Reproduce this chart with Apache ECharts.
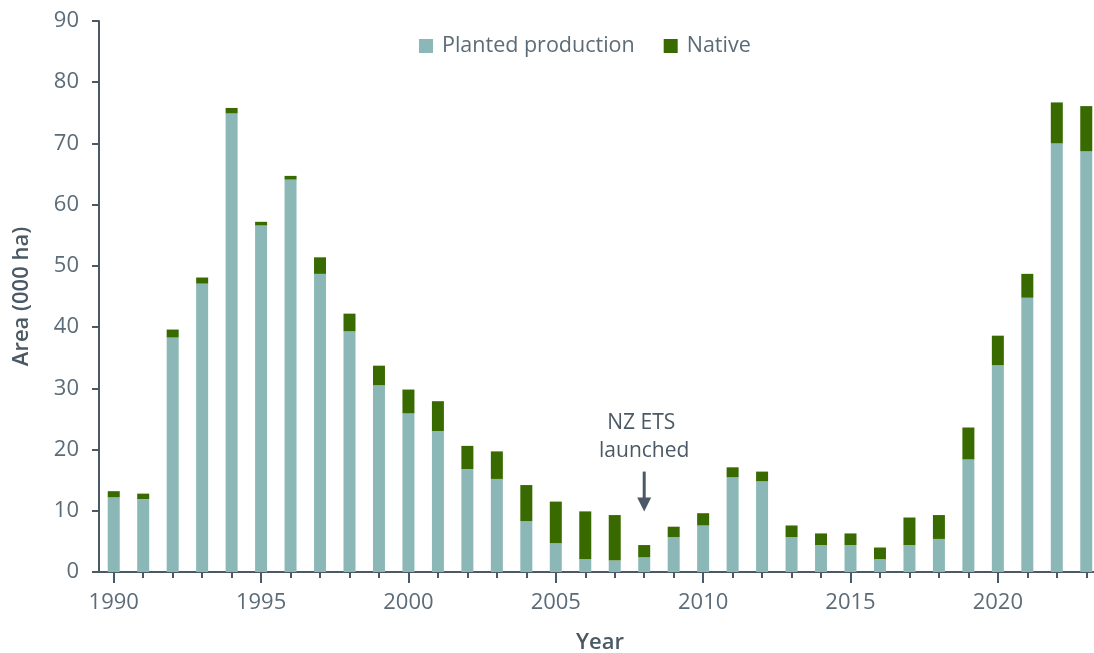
<!DOCTYPE html>
<html>
<head>
<meta charset="utf-8">
<script src="https://cdn.jsdelivr.net/npm/echarts@6/dist/echarts.min.js"></script>
<style>
  html, body { margin: 0; padding: 0; background: #fff; }
  #main { width: 1094px; height: 653px; }
</style>
</head>
<body>
<div id="main"></div>
<script>
// 年份
var years = ['1990', '1991', '1992', '1993', '1994', '1995', '1996', '1997', '1998', '1999',
  '2000', '2001', '2002', '2003', '2004', '2005', '2006', '2007', '2008', '2009',
  '2010', '2011', '2012', '2013', '2014', '2015', '2016', '2017', '2018', '2019',
  '2020', '2021', '2022', '2023'];
// 人工林 (000 ha)
var planted = [12.2, 11.9, 38.3, 47.1, 74.9, 56.6, 64.1, 48.7, 39.3, 30.5,
  25.9, 23.0, 16.8, 15.2, 8.3, 4.7, 2.1, 1.9, 2.4, 5.7,
  7.6, 15.5, 14.8, 5.7, 4.4, 4.4, 2.1, 4.4, 5.4, 18.4,
  33.8, 44.8, 70.0, 68.7];
// 原生林 (000 ha)
var native = [1.0, 0.9, 1.3, 1.0, 0.9, 0.6, 0.6, 2.7, 2.9, 3.2,
  3.9, 4.9, 3.8, 4.5, 5.9, 6.8, 7.8, 7.4, 2.0, 1.7,
  2.0, 1.6, 1.6, 1.9, 1.9, 1.9, 1.9, 4.5, 3.9, 5.2,
  4.8, 3.9, 6.7, 7.4];
var yTicks = [0, 10, 20, 30, 40, 50, 60, 70, 80, 90];

(function () {
  var axisColor = '#4a5965';
  var labelColor = '#5b6b77';
  var font = '"Open Sans", sans-serif';
  var myChart = echarts.init(document.getElementById('main'), null, { renderer: 'canvas' });
  var option = {
    animation: false,
    color: ['#8cb7b7', '#386a00'],
    textStyle: { fontFamily: font },
    legend: {
      left: 419,
      top: 35,
      padding: 0,
      itemWidth: 14,
      itemHeight: 14,
      itemGap: 29,
      icon: 'rect',
      textStyle: { color: labelColor, fontSize: 21.5, fontFamily: font, padding: [0, 0, 0, 4] },
      data: ['Planted production', 'Native']
    },
    grid: {
      left: 99,
      right: -7,
      top: 21,
      bottom: 81,
      containLabel: false,
      outerBoundsMode: 'none'
    },
    xAxis: [
      {
        type: 'category',
        data: years,
        name: 'Year',
        nameLocation: 'middle',
        nameGap: 60,
        nameTextStyle: { color: axisColor, fontSize: 22, fontWeight: 600, fontFamily: font },
        axisLine: { show: true, lineStyle: { color: axisColor, width: 2 } },
        axisTick: {
          show: true,
          alignWithLabel: true,
          length: 11,
          interval: function (idx) { return idx % 5 === 0; },
          lineStyle: { color: axisColor, width: 2 }
        },
        axisLabel: {
          color: labelColor,
          fontSize: 22,
          fontFamily: font,
          margin: 20,
          interval: function (idx) { return idx % 5 === 0; }
        }
      },
      {
        type: 'category',
        data: years,
        position: 'bottom',
        axisLine: { show: false },
        axisTick: {
          show: true,
          alignWithLabel: true,
          length: 6,
          interval: 0,
          lineStyle: { color: axisColor, width: 2 }
        },
        axisLabel: { show: false }
      }
    ],
    yAxis: {
      type: 'value',
      min: 0,
      max: 90,
      interval: 10,
      name: 'Area (000 ha)',
      nameLocation: 'middle',
      nameGap: 66,
      nameTextStyle: { color: axisColor, fontSize: 22, fontWeight: 600, fontFamily: font },
      axisLine: { show: true, lineStyle: { color: axisColor, width: 2 } },
      axisTick: { show: true, length: 7, lineStyle: { color: axisColor, width: 2 } },
      axisLabel: {
        color: labelColor,
        fontSize: 22,
        fontFamily: font,
        margin: 20,
        formatter: function (v) { return yTicks.indexOf(v) >= 0 ? String(v) : ''; }
      },
      splitLine: { show: false }
    },
    series: [
      {
        name: 'Planted production',
        type: 'bar',
        stack: 'area',
        barWidth: 12,
        xAxisIndex: 0,
        data: planted
      },
      {
        name: 'Native',
        type: 'bar',
        stack: 'area',
        barWidth: 12,
        xAxisIndex: 0,
        data: native
      }
    ]
  };
  myChart.setOption(option);

  // NZ ETS 标注
  var p = myChart.convertToPixel({ xAxisIndex: 0, yAxisIndex: 0 }, ['2008', 0]);
  var ax = p[0];
  var yOf = function (v) { return myChart.convertToPixel({ yAxisIndex: 0 }, v); };
  var tipY = yOf(9.9);
  var startY = yOf(16.4);
  myChart.setOption({
    graphic: [
      {
        type: 'text', x: ax - 3, y: yOf(24.4),
        style: { text: 'NZ ETS', fill: axisColor, font: '21px ' + font, align: 'center', verticalAlign: 'middle' }
      },
      {
        type: 'text', x: ax, y: yOf(19.7),
        style: { text: 'launched', fill: axisColor, font: '21px ' + font, align: 'center', verticalAlign: 'middle' }
      },
      {
        type: 'line',
        shape: { x1: ax, y1: startY, x2: ax, y2: tipY - 10 },
        style: { stroke: axisColor, lineWidth: 3 }
      },
      {
        type: 'polygon',
        shape: { points: [[ax, tipY], [ax - 7, tipY - 14], [ax + 7, tipY - 14]] },
        style: { fill: axisColor }
      }
    ]
  });
})();
</script>
</body>
</html>
